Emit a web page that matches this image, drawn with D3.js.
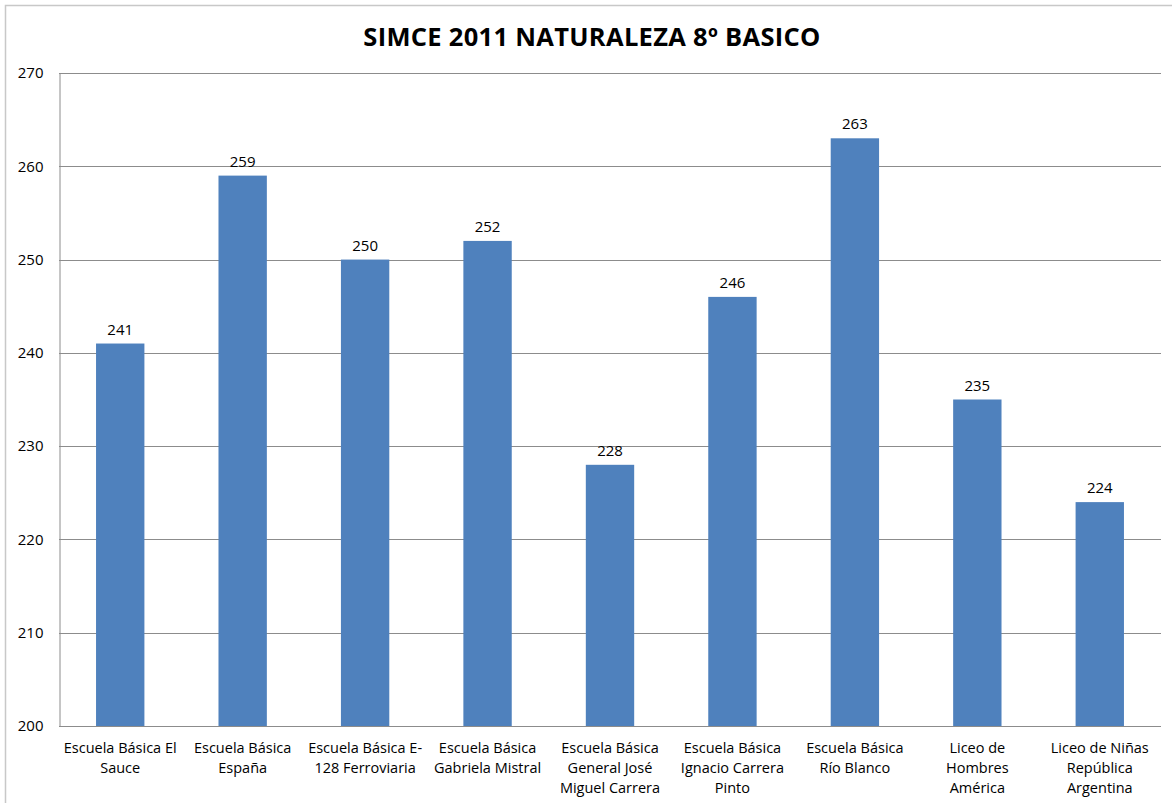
<!DOCTYPE html>
<html>
<head>
<meta charset="utf-8">
<script src="https://cdn.jsdelivr.net/npm/d3@7"></script>
<style>
  body { margin: 0; background: #fff; }
  svg text { font-family: "Open Sans", "Noto Sans", sans-serif; fill: #000; }
</style>
</head>
<body>
<div id="chart"></div>
<script>
// chart data
const schools = [
    ["Escuela Básica El", "Sauce"],
    ["Escuela Básica", "España"],
    ["Escuela Básica E-", "128 Ferroviaria"],
    ["Escuela Básica", "Gabriela Mistral"],
    ["Escuela Básica", "General José", "Miguel Carrera"],
    ["Escuela Básica", "Ignacio Carrera", "Pinto"],
    ["Escuela Básica", "Río Blanco"],
    ["Liceo de", "Hombres", "América"],
    ["Liceo de Niñas", "República", "Argentina"]
];
const scores = [241, 259, 250, 252, 228, 246, 263, 235, 224];
const yTicks = [200, 210, 220, 230, 240, 250, 260, 270];
const title = "SIMCE 2011 NATURALEZA 8º BASICO";

// formatting parameters
const width = 1172;
const height = 803;
const margin = { top: 73, right: 11, bottom: 77, left: 59 };

const svg = d3.select("#chart")
    .append("svg")
    .attr("width", width)
    .attr("height", height);

// outer chart border
svg.append("rect")
    .attr("x", 5.5)
    .attr("y", 5.5)
    .attr("width", width + 20)
    .attr("height", height + 20)
    .attr("fill", "none")
    .attr("stroke", "#c8c8c8")
    .attr("stroke-width", 1.5);

// title
svg.append("text")
    .attr("x", 592)
    .attr("y", 46)
    .attr("text-anchor", "middle")
    .style("font-size", "25.5px")
    .style("font-weight", "bold")
    .style("letter-spacing", "0.3px")
    .text(title);

// scales
const x = d3.scaleBand()
    .domain(d3.range(scores.length))
    .range([margin.left, width - margin.right])
    .padding(0);

const y = d3.scaleLinear()
    .domain([200, 270])
    .range([height - margin.bottom, margin.top]);

const barWidth = x.bandwidth() * 0.395;

// gridlines
svg.append("g")
    .selectAll("line")
    .data(yTicks)
    .enter()
    .append("line")
    .attr("x1", margin.left)
    .attr("x2", width - margin.right)
    .attr("y1", d => Math.round(y(d)) + 0.5)
    .attr("y2", d => Math.round(y(d)) + 0.5)
    .attr("stroke", "#8c8c8c")
    .attr("stroke-width", 1);

// y axis
const yAxis = d3.axisLeft(y).tickValues(yTicks).tickSize(0).tickPadding(16);
const yG = svg.append("g")
    .attr("transform", `translate(${margin.left + 0.5},0)`)
    .call(yAxis);
yG.select(".domain").attr("stroke", "#8c8c8c");
yG.selectAll("text").style("font-size", "15px").attr("fill", "#000");

// bars
svg.append("g")
    .selectAll("rect")
    .data(scores)
    .enter()
    .append("rect")
    .attr("x", (d, i) => x(i) + x.bandwidth() / 2 - barWidth / 2)
    .attr("y", d => y(d))
    .attr("width", barWidth)
    .attr("height", d => y(200) - y(d))
    .attr("fill", "#4f81bd");

// value labels
svg.append("g")
    .selectAll("text")
    .data(scores)
    .enter()
    .append("text")
    .attr("x", (d, i) => x(i) + x.bandwidth() / 2)
    .attr("y", d => y(d) - 9)
    .attr("text-anchor", "middle")
    .style("font-size", "15px")
    .text(d => d);

// category labels
const cat = svg.append("g")
    .selectAll("text")
    .data(schools)
    .enter()
    .append("text")
    .attr("text-anchor", "middle")
    .style("font-size", "14.5px");

cat.selectAll("tspan")
    .data((d, i) => d.map(line => ({ line, i })))
    .enter()
    .append("tspan")
    .attr("x", d => x(d.i) + x.bandwidth() / 2)
    .attr("y", (d, j) => y(200) + 27 + j * 20)
    .text(d => d.line);
</script>
</body>
</html>
